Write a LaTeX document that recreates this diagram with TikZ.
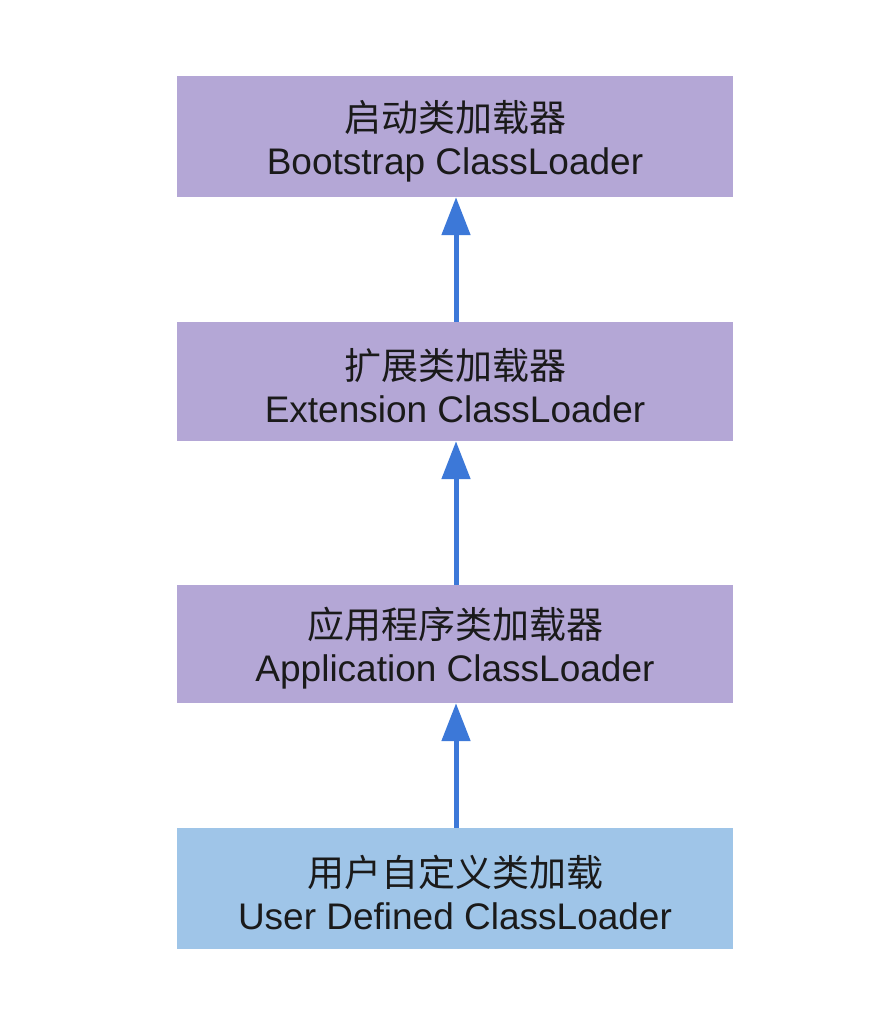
\documentclass[tikz,border=0pt]{standalone}
\usepackage{fontspec}
\setmainfont{Liberation Sans}
\newfontfamily\cjk{Noto Sans CJK SC}
\usetikzlibrary{arrows.meta}
\definecolor{boxpurple}{HTML}{B4A7D6}
\definecolor{boxblue}{HTML}{9FC5E8}
\definecolor{arrowblue}{HTML}{3C78D8}
\definecolor{txt}{HTML}{1A1A1A}
\newcommand{\topstrut}{\rule{0pt}{40pt}}
\tikzset{
  loaderbox/.style={rectangle, fill=#1, draw=none, minimum width=556pt, inner sep=0pt,
    text=txt, align=center, font=\fontsize{37pt}{43pt}\selectfont},
  uparrow/.style={draw=arrowblue, line width=5pt,
    -{Triangle[width=28pt,length=38pt,fill=arrowblue]}, shorten >=0pt}
}
\begin{document}
\begin{tikzpicture}[x=1pt,y=-1pt]
\useasboundingbox (0,0) rectangle (868,1019);
\fill[white] (0,0) rectangle (868,1019);
\node[loaderbox=boxpurple, minimum height=121pt] (b1) at (455,136.5) {\topstrut{\cjk 启动类加载器}\\Bootstrap ClassLoader};
\node[loaderbox=boxpurple, minimum height=119pt] (b2) at (455,381.5) {\topstrut{\cjk 扩展类加载器}\\Extension ClassLoader};
\node[loaderbox=boxpurple, minimum height=118pt] (b3) at (455,644) {\topstrut{\cjk 应用程序类加载器}\\Application ClassLoader};
\node[loaderbox=boxblue, minimum height=121pt] (b4) at (455,888.5) {\topstrut{\cjk 用户自定义类加载}\\User Defined ClassLoader};
\draw[uparrow] ([xshift=1pt]b2.north) -- ([xshift=1pt]b1.south);
\draw[uparrow] ([xshift=1pt]b3.north) -- ([xshift=1pt]b2.south);
\draw[uparrow] ([xshift=1pt]b4.north) -- ([xshift=1pt]b3.south);
\end{tikzpicture}
\end{document}
